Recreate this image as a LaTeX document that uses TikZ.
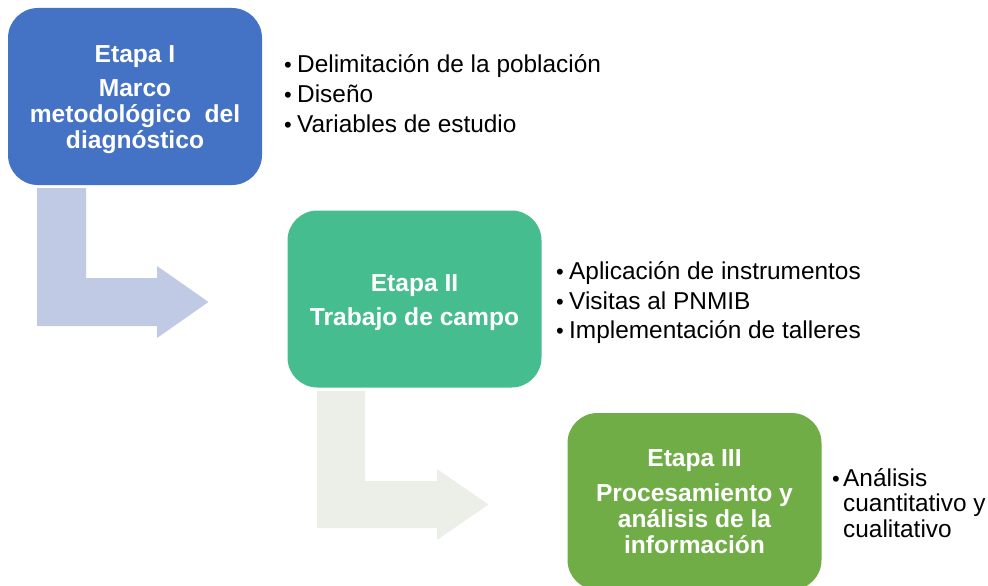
\documentclass[tikz,border=0pt]{standalone}
\usepackage{fontspec}
\setmainfont{Liberation Sans}
\definecolor{bOne}{HTML}{4472C4}
\definecolor{bTwo}{HTML}{45BD8E}
\definecolor{bThree}{HTML}{70AD47}
\definecolor{aOne}{HTML}{C0CAE5}
\definecolor{aTwo}{HTML}{EBEFE8}
\begin{document}
\begin{tikzpicture}[x=1pt,y=-1pt,
  stagebox/.style={draw=none,rounded corners=30pt,minimum width=254pt,minimum height=177pt,inner sep=0pt},
  boxtxt/.style={anchor=base,inner sep=0pt,text=white,font=\fontsize{24.6}{26}\selectfont\bfseries},
  itemtxt/.style={anchor=base west,inner sep=0pt,text=black,font=\fontsize{24.4}{26}\selectfont},
  bul/.style={anchor=base west,inner sep=0pt,text=black,font=\fontsize{22}{26}\selectfont}]
\useasboundingbox (0,0) rectangle (988,586);
\clip (0,0) rectangle (988,586);
% arrows
\fill[aOne] (37,188) -- (86,188) -- (86,278) -- (157,278) -- (157,266) -- (208.5,302) -- (157,338) -- (157,326) -- (37,326) -- cycle;
\fill[aTwo] (317,391) -- (365,391) -- (365,481) -- (437,481) -- (437,469) -- (488.5,504.5) -- (437,540) -- (437,528) -- (317,528) -- cycle;
% boxes
\node[stagebox,fill=bOne] (s1) at (135,96.5) {};
\node[stagebox,fill=bTwo] (s2) at (414.5,299) {};
\node[stagebox,fill=bThree] (s3) at (694.5,501.5) {};
% box texts
\node[boxtxt] (t1a) at (135,62.7) {Etapa I};
\node[boxtxt] (t1b) at (135,96.7) {Marco};
\node[boxtxt] (t1c) at (135,122.5) {metodológico~~del};
\node[boxtxt] (t1d) at (135,148.3) {diagnóstico};
\node[boxtxt] (t2a) at (414.5,291) {Etapa II};
\node[boxtxt] (t2b) at (414.5,325) {Trabajo de campo};
\node[boxtxt] (t3a) at (694.5,466.7) {Etapa III};
\node[boxtxt] (t3b) at (694.5,501.7) {Procesamiento y};
\node[boxtxt] (t3c) at (694.5,527.5) {análisis de la};
\node[boxtxt] (t3d) at (694.5,553.3) {información};
% bullets
\node[bul] (b1a) at (284,72.7) {•};
\node[itemtxt] (i1a) at (297,72.7) {Delimitación de la población};
\node[bul] (b1b) at (284,102.5) {•};
\node[itemtxt] (i1b) at (297,102.5) {Diseño};
\node[bul] (b1c) at (284,132) {•};
\node[itemtxt] (i1c) at (297,132) {Variables de estudio};
\node[bul] (b2a) at (556,279.5) {•};
\node[itemtxt] (i2a) at (569,279.5) {Aplicación de instrumentos};
\node[bul] (b2b) at (556,309) {•};
\node[itemtxt] (i2b) at (569,309) {Visitas al PNMIB};
\node[bul] (b2c) at (556,338.5) {•};
\node[itemtxt] (i2c) at (569,338.5) {Implementación de talleres};
\node[bul] (b3a) at (832,486) {•};
\node[itemtxt] (i3a) at (843,486) {Análisis};
\node[itemtxt] (i3b) at (843,511.5) {cuantitativo y};
\node[itemtxt] (i3c) at (843,537) {cualitativo};
\end{tikzpicture}
\end{document}
